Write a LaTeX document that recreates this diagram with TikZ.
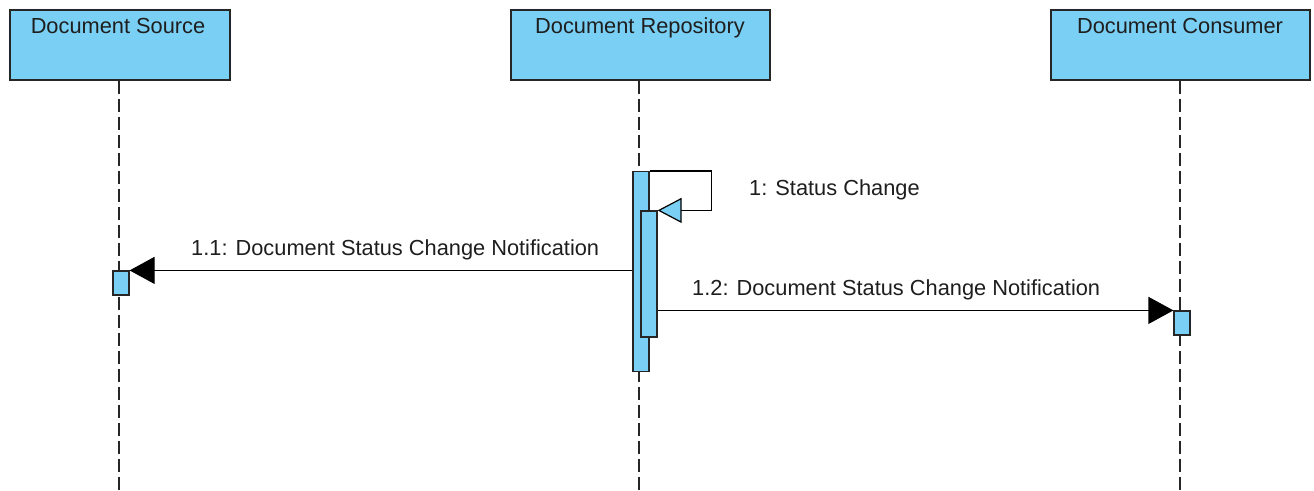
\documentclass[tikz,border=0pt]{standalone}
\usepackage{fontspec}
\setmainfont{Liberation Sans}
\usepackage{tikz}
\usetikzlibrary{arrows.meta,positioning}
\definecolor{lifeblue}{RGB}{122,207,244}
\definecolor{inktext}{RGB}{30,30,30}

\begin{document}
\begin{tikzpicture}[x=1pt,y=-1pt,
  lifebox/.style={draw=black!85,line width=1.4pt,fill=lifeblue,
                  minimum height=70pt,inner sep=0pt},
  actbar/.style={draw=black!85,line width=1.2pt,fill=lifeblue,
                 minimum width=16pt,inner sep=0pt},
  lifeline/.style={line width=1.2pt,draw=black!85,dash pattern=on 13pt off 5pt},
  msgtext/.style={font=\fontsize{21.8}{26}\selectfont,text=inktext,inner sep=0pt},
  call/.style={line width=1.2pt,-{Triangle[length=25pt,width=27pt]}},
  selfcall/.style={line width=1.2pt,
                   -{Triangle[length=24pt,width=25pt,fill=lifeblue]}}
]
\useasboundingbox (0,0) rectangle (1314,490);

% lifeline heads
\node[lifebox,minimum width=220pt] (src) at (120,45) {};
\node[lifebox,minimum width=259pt] (repo) at (640.5,45) {};
\node[lifebox,minimum width=259pt] (cons) at (1180.5,45) {};
\node[msgtext,anchor=base] (srcname) at (118,33) {Document Source};
\node[msgtext,anchor=base] (reponame) at (640,33) {Document Repository};
\node[msgtext,anchor=base] (consname) at (1180,33) {Document Consumer};

% dashed lifelines
\coordinate (srcend) at (119,490);
\coordinate (repoend) at (639,490);
\coordinate (consend) at (1180,490);
\draw[lifeline] (srcend |- src.south) -- (srcend);
\draw[lifeline] (repoend |- repo.south) -- (repoend);
\draw[lifeline] (consend |- cons.south) -- (consend);

% activations
\node[actbar,minimum height=200pt] (actR) at (641,271.5) {};
\node[actbar,minimum height=126pt] (actRin) at (649,274) {};
\node[actbar,minimum height=24pt] (actS) at (121,283) {};
\node[actbar,minimum height=24pt] (actC) at (1182,323) {};

% messages
\draw[selfcall] (actR.north east) -- ++(62,0) |- (actRin.north east);
\node[msgtext,anchor=base west] (m1) at (749,195) {1: Status Change};

\draw[call] (actR.west |- actS.north) -- (actS.north east);
\node[msgtext,anchor=base west] (m11) at (191,255)
  {1.1: Document Status Change Notification};

\draw[call] (actRin.east |- actC.north) -- (actC.north west);
\node[msgtext,anchor=base west] (m12) at (692,295)
  {1.2: Document Status Change Notification};
\end{tikzpicture}
\end{document}
